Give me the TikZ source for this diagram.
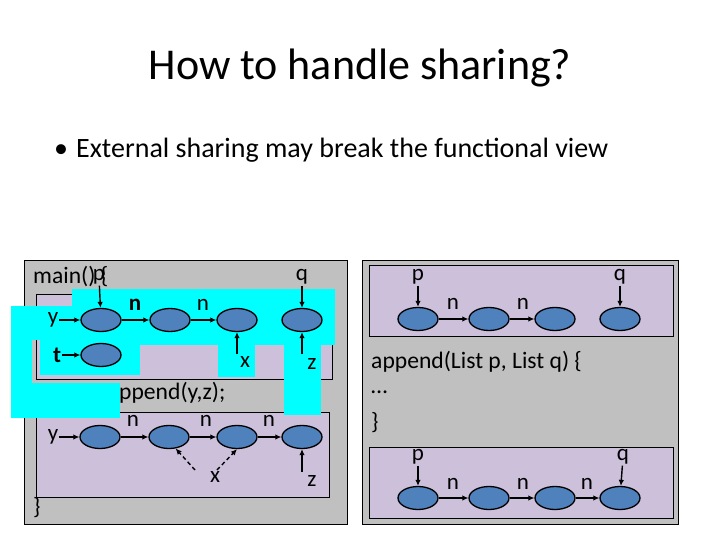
\documentclass[tikz,border=0pt]{standalone}
\usepackage{fontspec}
\setmainfont{Carlito}
\usetikzlibrary{shapes.geometric,arrows.meta}
\definecolor{panelgray}{HTML}{C0C0C0}
\definecolor{lav}{HTML}{CCC0DA}
\definecolor{nodeblue}{HTML}{4F81BD}
\definecolor{cyanbox}{HTML}{00FFFF}
\tikzset{
  cell/.style={ellipse, draw=black, line width=1.3pt, fill=nodeblue, minimum width=40pt, minimum height=23pt, inner sep=0pt},
  lbl/.style={inner sep=1pt, font=\fontsize{23}{26}\selectfont},
  code/.style={anchor=west, inner sep=0pt, font=\fontsize{23.6}{28}\selectfont},
  ptr/.style={line width=1.4pt, -{Latex[length=6pt,width=5.5pt]}},
  dptr/.style={ptr, dashed, dash pattern=on 4pt off 3pt},
  panel/.style={draw=black, line width=0.8pt, fill=panelgray},
  heap/.style={draw=black, line width=0.8pt, fill=lav},
  cover/.style={fill=cyanbox, draw=none}
}
\begin{document}
\begin{tikzpicture}[x=1pt,y=-1pt]
\useasboundingbox (0,0) rectangle (720,540);
\fill[white] (0,0) rectangle (720,540);
% title and bullet
\node[font=\fontsize{44}{52}\selectfont] (title) at (360,68) {How to handle sharing?};
\node[anchor=west, inner sep=0pt, font=\fontsize{28}{32}\selectfont] (bul) at (54,150) {•\hspace{8pt}External sharing may break the functional view};
% ---------- left panel ----------
\draw[panel] (24,260) rectangle (347,524);
\draw[heap] (36,294) rectangle (332,379);
\draw[heap] (36,412) rectangle (329,497);
% cyan overlays
\fill[cover] (72,289) rectangle (335,345);
\fill[cover] (11,306) rectangle (73,340);
\fill[cover] (11,306) rectangle (32,418);
\fill[cover] (40,339) rectangle (140,375);
\fill[cover] (11,383) rectangle (120,418);
\fill[cover] (218,344) rectangle (255,377);
\fill[cover] (284,344) rectangle (321,415);
% code
\node[code] (mainl) at (33,277) {main() \{};
\node[code] (appl) at (119,393) {ppend(y,z);};
\node[code] (closel) at (33,508) {\}};
% top heap
\node[cell] (L1) at (101,320) {};
\node[cell] (L2) at (170,320) {};
\node[cell] (L3) at (237,320) {};
\node[cell] (L4) at (302,320) {};
\node[cell] (Lt) at (101,355) {};
\node[lbl] (pL) at (99,277) {p};
\node[lbl] (qL) at (302,277) {q};
\node[lbl] (yL) at (53,320) {y};
\node[lbl] (tL) at (57,355) {\textbf{t}};
\node[lbl] (xL) at (245,362) {x};
\node[lbl] (zL) at (312,364) {z};
\node[lbl] (n1) at (135,305) {\textbf{n}};
\node[lbl] (n2) at (203,305) {n};
\coordinate (xs) at (237,354);
\coordinate (zs) at (302,354);
\draw[ptr] (pL) -- (L1);
\draw[ptr] (qL) -- (L4);
\draw[ptr] (yL) -- (L1);
\draw[ptr] (tL) -- (Lt);
\draw[ptr] (L1) -- (L2);
\draw[ptr] (L2) -- (L3);
\draw[ptr] (xs) -- (L3.south);
\draw[ptr] (zs) -- (L4.south);
% bottom heap
\node[cell] (B1) at (100,437) {};
\node[cell] (B2) at (169,437) {};
\node[cell] (B3) at (237,437) {};
\node[cell] (B4) at (302,437) {};
\node[lbl] (yB) at (53,437) {y};
\node[lbl] (m1) at (133,421) {n};
\node[lbl] (m2) at (206,421) {n};
\node[lbl] (m3) at (269,421) {n};
\node[lbl] (xB) at (215,477) {x};
\node[lbl] (zB) at (312,481) {z};
\coordinate (xa) at (195,470);
\coordinate (xb) at (217,470);
\coordinate (zb) at (302,472);
\draw[ptr] (yB) -- (B1);
\draw[ptr] (B1) -- (B2);
\draw[ptr] (B2) -- (B3);
\draw[ptr] (B3) -- (B4);
\draw[dptr] (xa) -- (B2.-60);
\draw[dptr] (xb) -- (B3.south);
\draw[ptr] (zb) -- (B4.south);
% ---------- right panel ----------
\draw[panel] (362,260) rectangle (678,524);
\draw[heap] (369,265) rectangle (673,336);
\draw[heap] (369,447) rectangle (673,518);
\node[code] (appr) at (371,362) {append(List p, List q) \{};
\node[code] (dots) at (371,392) {…};
\node[code] (closer) at (371,423) {\}};
\node[cell] (R1) at (418,319) {};
\node[cell] (R2) at (489,319) {};
\node[cell] (R3) at (555,319) {};
\node[cell] (R4) at (620,319) {};
\node[lbl] (pR) at (418,277) {p};
\node[lbl] (qR) at (620,277) {q};
\node[lbl] (k1) at (453,304) {n};
\node[lbl] (k2) at (523,304) {n};
\draw[ptr] (pR) -- (R1);
\draw[ptr] (qR) -- (R4);
\draw[ptr] (R1) -- (R2);
\draw[ptr] (R2) -- (R3);
\node[cell] (S1) at (418,498) {};
\node[cell] (S2) at (489,498) {};
\node[cell] (S3) at (555,498) {};
\node[cell] (S4) at (620,498) {};
\node[lbl] (pS) at (418,457) {p};
\node[lbl] (qS) at (623,457) {q};
\node[lbl] (j1) at (453,484) {n};
\node[lbl] (j2) at (523,484) {n};
\node[lbl] (j3) at (587,484) {n};
\draw[ptr] (pS) -- (S1);
\draw[ptr] (qS) -- (S4);
\draw[ptr] (S1) -- (S2);
\draw[ptr] (S2) -- (S3);
\draw[ptr, line width=2.2pt] (S3) -- (S4);
\end{tikzpicture}
\end{document}
